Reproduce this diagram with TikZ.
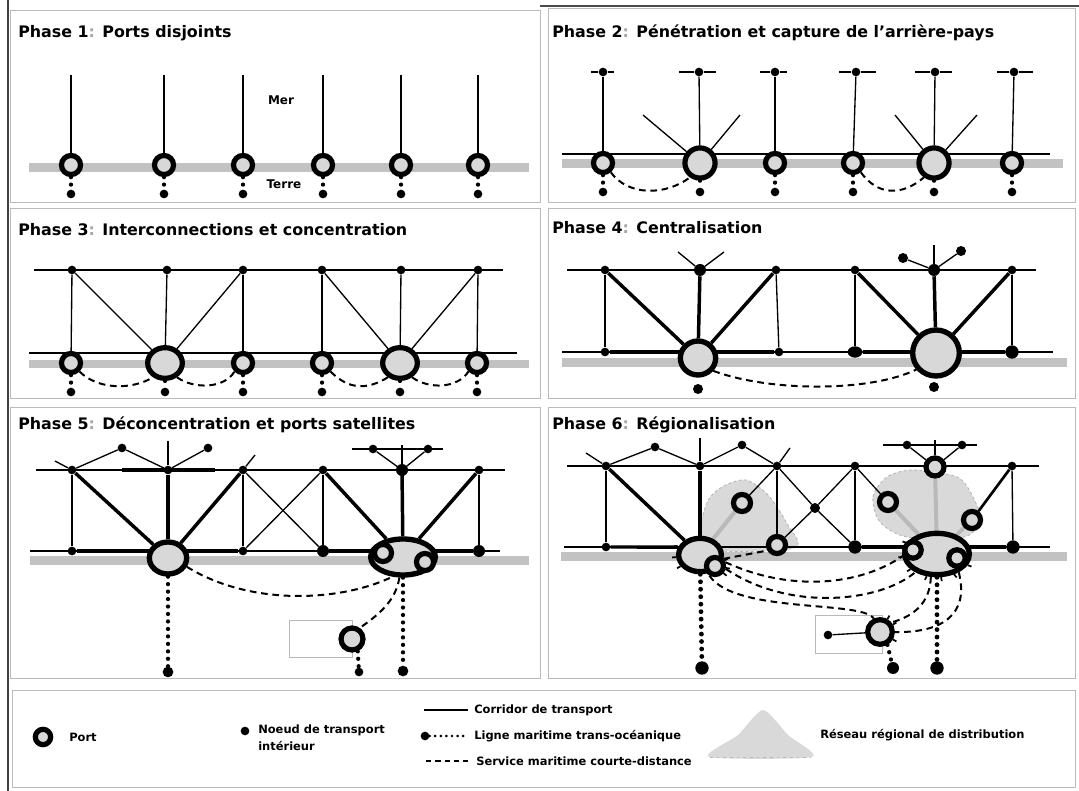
\documentclass[tikz,border=0pt]{standalone}
\usepackage{fontspec}
\setmainfont{DejaVu Sans}
\usetikzlibrary{shapes.geometric}
\pgfdeclarelayer{paper}
\pgfdeclarelayer{bgl}
\pgfdeclarelayer{lnl}
\pgfsetlayers{paper,bgl,lnl,main}
\definecolor{portfill}{HTML}{D8D8D8}
\definecolor{stripc}{HTML}{C2C2C2}
\definecolor{regionc}{HTML}{D9D9D9}
\definecolor{framec}{HTML}{BBBBBB}
\begin{document}
\begin{tikzpicture}[x=0.75pt,y=-0.75pt,
 port/.style={circle,draw=black,line width=3.9pt,fill=portfill,inner sep=0pt,minimum size=14.3pt},
 bport/.style={ellipse,draw=black,line width=4pt,fill=portfill,inner sep=0pt},
 dot/.style={circle,fill=black,inner sep=0pt,minimum size=6.5pt},
 bdot/.style={circle,fill=black,inner sep=0pt,minimum size=9pt},
 ln/.style={line width=1pt},
 thk/.style={line width=2.6pt},
 fade/.style={line width=3pt,draw=gray!55},
 dsea/.style={line width=1.5pt,dash pattern=on 5pt off 3.5pt},
 osea/.style={line width=3.2pt,line cap=round,dash pattern=on 0pt off 5.6pt},
 tick/.style={line width=1.3pt},
 ttl/.style={anchor=west,font=\fontsize{11.9}{13}\selectfont\bfseries,inner sep=0pt},
 lab/.style={anchor=west,font=\fontsize{8.6}{10}\selectfont\bfseries,inner sep=0pt},
 big/.style={font=\fontsize{9}{10}\selectfont\bfseries,inner sep=0pt},
 frame/.style={draw=framec,line width=0.6pt},
 region/.style={fill=regionc,draw=gray!60,dash pattern=on 2pt off 2pt,line width=0.6pt}]
\useasboundingbox (0,0) rectangle (1079,791);
\begin{pgfonlayer}{paper}
\fill[white] (0,0) rectangle (1079,791);
\end{pgfonlayer}

% ---------- frames ----------
\begin{pgfonlayer}{bgl}
\draw[frame] (10,10) rectangle (540,202);
\draw[frame] (548,8) rectangle (1075,202);
\draw[frame] (10,208) rectangle (540,398);
\draw[frame] (548,208) rectangle (1075,398);
\draw[frame] (10,407) rectangle (540,678);
\draw[frame] (548,407) rectangle (1075,678);
\draw[frame] (12,690) rectangle (1075,787);
\draw[black!75,line width=1.4pt] (8,0) -- (8,791);
\draw[black!70,line width=1.1pt] (540,6) -- (1079,6);
\end{pgfonlayer}

% ================= Phase 1 =================
\node[ttl] (ttl1) at (18,33) {Phase 1\textcolor{gray!70}{:} Ports disjoints};
\begin{pgfonlayer}{bgl}
\fill[stripc] (29,163) rectangle (529,172);
\end{pgfonlayer}
\foreach \x [count=\i] in {71,164,243,323,401,478} {
  \node[port] (a-p\i) at (\x,165) {};
  \node[dot] (a-n\i) at (\x,194) {};
  \coordinate (a-t\i) at (\x,75);
  \begin{pgfonlayer}{lnl}
  \draw[ln] (a-t\i) -- (a-p\i);
  \draw[osea] (a-p\i) -- (a-n\i);
  \end{pgfonlayer}
}
\node[big] (mer) at (281,100) {Mer};
\node[big] (terre) at (284,184) {Terre};

% ================= Phase 2 =================
\node[ttl] (ttl2) at (552,33) {Phase 2\textcolor{gray!70}{:} Pénétration et capture de l’arrière-pays};
\begin{pgfonlayer}{bgl}
\fill[stripc] (562,159.5) rectangle (1063,168.5);
\end{pgfonlayer}
\coordinate (b-cl) at (562,154);
\coordinate (b-cr) at (1050,154);
\begin{pgfonlayer}{lnl}
\draw[ln] (b-cl) -- (b-cr);
\end{pgfonlayer}
\foreach \x/\l/\r [count=\i] in {603/591/614, 699/679/716, 775/760/787, 856/839/876, 935/915/952, 1014/997/1033} {
  \node[dot] (b-t\i) at (\x,72) {};
  \coordinate (b-l\i) at (\l,72);
  \coordinate (b-r\i) at (\r,72);
  \begin{pgfonlayer}{lnl}
  \draw[ln] (b-l\i) -- (b-t\i) -- (b-r\i);
  \end{pgfonlayer}
}
\foreach \x/\s [count=\i] in {603/14.3pt,700/22.6pt,775/14.3pt,853/14.3pt,934/22.6pt,1012/14.3pt} {
  \node[port,minimum size=\s] (b-p\i) at (\x,163) {};
  \node[dot] (b-n\i) at (\x,192) {};
  \begin{pgfonlayer}{lnl}
  \draw[ln] (b-t\i) -- (b-p\i);
  \draw[osea] (b-p\i) -- (b-n\i);
  \end{pgfonlayer}
}
\coordinate (b-d1) at (643,115);
\coordinate (b-d2) at (740,115);
\coordinate (b-d3) at (895,115);
\coordinate (b-d4) at (977,115);
\begin{pgfonlayer}{lnl}
\draw[ln] (b-p2) -- (b-d1);
\draw[ln] (b-p2) -- (b-d2);
\draw[ln] (b-p5) -- (b-d3);
\draw[ln] (b-p5) -- (b-d4);
\draw[dsea] (b-p1.-50) .. controls (628,196) and (665,196) .. (b-p2.-125);
\draw[dsea] (b-p4.-50) .. controls (878,196) and (902,196) .. (b-p5.-125);
\end{pgfonlayer}

% ================= Phase 3 =================
\node[ttl] (ttl3) at (18,230) {Phase 3\textcolor{gray!70}{:} Interconnections et concentration};
\begin{pgfonlayer}{bgl}
\fill[stripc] (29,360) rectangle (529,368);
\end{pgfonlayer}
\coordinate (c-tl) at (34,270);
\coordinate (c-tr) at (503,270);
\coordinate (c-bl) at (29,353);
\coordinate (c-br) at (517,353);
\begin{pgfonlayer}{lnl}
\draw[ln] (c-tl) -- (c-tr);
\draw[ln] (c-bl) -- (c-br);
\end{pgfonlayer}
\foreach \x [count=\i] in {72,167,243,322,401,478} {
  \node[dot] (c-t\i) at (\x,270) {};
}
\foreach \x/\w/\h [count=\i] in {71/14.3pt/14.3pt,165/26pt/23pt,243/14.3pt/14.3pt,322/14.3pt/14.3pt,400/26pt/23pt,477/14.3pt/14.3pt} {
  \node[bport,line width=3.9pt,minimum width=\w,minimum height=\h] (c-p\i) at (\x,363) {};
  \node[dot] (c-n\i) at (\x,392) {};
  \begin{pgfonlayer}{lnl}
  \draw[ln] (c-t\i) -- (c-p\i);
  \draw[osea] (c-p\i) -- (c-n\i);
  \end{pgfonlayer}
}
\begin{pgfonlayer}{lnl}
\draw[ln] (c-t1) -- (c-p2);
\draw[ln] (c-t3) -- (c-p2);
\draw[ln] (c-t4) -- (c-p5);
\draw[ln] (c-t6) -- (c-p5);
\draw[dsea] (c-p1.-45) .. controls (98,390) and (132,390) .. (c-p2.-130);
\draw[dsea] (c-p2.-50) .. controls (195,390) and (225,388) .. (c-p3.-135);
\draw[dsea] (c-p4.-45) .. controls (349,390) and (367,390) .. (c-p5.-130);
\draw[dsea] (c-p5.-50) .. controls (430,390) and (458,388) .. (c-p6.-135);
\end{pgfonlayer}

% ================= Phase 4 =================
\node[ttl] (ttl4) at (552,228) {Phase 4\textcolor{gray!70}{:} Centralisation};
\begin{pgfonlayer}{bgl}
\fill[stripc] (562,358) rectangle (1067,367);
\end{pgfonlayer}
\coordinate (d-tl) at (567,270);
\coordinate (d-tr) at (1036,270);
\coordinate (d-bl) at (562,352);
\coordinate (d-br) at (1053,352);
\node[dot] (d-t1) at (605,270) {};
\node[bdot] (d-t2) at (700,270) {};
\node[dot] (d-t3) at (776,270) {};
\node[dot] (d-t4) at (855,270) {};
\node[bdot] (d-t5) at (934,270) {};
\node[dot] (d-t6) at (1012,270) {};
\coordinate (d-s1) at (678,252);
\coordinate (d-s2) at (724,252);
\coordinate (d-s3) at (934,245);
\node[dot,minimum size=7.5pt] (d-u1) at (903,258) {};
\node[dot,minimum size=7.5pt] (d-u2) at (961,251) {};
\node[dot] (d-b1) at (605,352) {};
\node[dot] (d-b2) at (779,352) {};
\node[ellipse,fill=black,inner sep=0pt,minimum width=11pt,minimum height=8.5pt] (d-b3) at (855,352) {};
\node[bdot,minimum size=10pt] (d-b4) at (1012,352) {};
\node[bport,minimum width=26.5pt,minimum height=25.5pt] (d-L) at (698,358) {};
\node[bport,minimum width=35pt,minimum height=34.5pt] (d-R) at (936,353) {};
\node[dot,minimum size=7.5pt] (d-n1) at (698,389) {};
\node[dot,minimum size=7.5pt] (d-n2) at (934,387) {};
\begin{pgfonlayer}{lnl}
\draw[ln] (d-tl) -- (d-tr);
\draw[ln] (d-bl) -- (d-br);
\draw[thk] (d-b1) -- (d-b2);
\draw[thk] (d-b3) -- (d-b4);
\draw[ln] (d-s1) -- (d-t2) -- (d-s2);
\draw[ln] (d-s3) -- (d-t5);
\draw[ln] (d-u1) -- (d-t5);
\draw[ln] (d-u2) -- (d-t5);
\draw[ln] (d-t1) -- (d-b1);
\draw[ln] (d-t3) -- (d-b2);
\draw[ln] (d-t4) -- (d-b3);
\draw[ln] (d-t6) -- (d-b4);
\draw[thk] (d-t1) -- (d-L);
\draw[thk] (d-t2) -- (d-L);
\draw[thk] (d-t3) -- (d-L);
\draw[thk] (d-t4) -- (d-R);
\draw[thk] (d-t5) -- (d-R);
\draw[thk] (d-t6) -- (d-R);
\draw[dsea] (d-L.-40) .. controls (770,392) and (870,392) .. (d-R.-140);
\end{pgfonlayer}

% ================= Phase 5 =================
\node[ttl] (ttl5) at (18,425) {Phase 5\textcolor{gray!70}{:} Déconcentration et ports satellites};
\begin{pgfonlayer}{bgl}
\fill[stripc] (30,556) rectangle (529,565);
\draw[gray!55,line width=0.7pt] (289,620) rectangle (352,657);
\end{pgfonlayer}
\coordinate (e-tl) at (36,470);
\coordinate (e-tr) at (505,470);
\coordinate (e-k1) at (122,470);
\coordinate (e-k2) at (215,470);
\coordinate (e-bl) at (30,551);
\coordinate (e-br) at (500,551);
\foreach \x [count=\i] in {72,168,243,323,402,479} {
  \node[dot] (e-t\i) at (\x,470) {};
}
\node[bdot] (e-t5b) at (402,470) {};
\node[dot] (e-u1) at (122,448) {};
\node[dot] (e-u2) at (208,448) {};
\coordinate (e-s1) at (55,461);
\coordinate (e-s2) at (168,441);
\coordinate (e-s3) at (255,455);
\coordinate (e-h1) at (352,449);
\coordinate (e-h2) at (443,449);
\coordinate (e-s4) at (402,445);
\node[dot] (e-v1) at (373,449) {};
\node[dot] (e-v2) at (428,449) {};
\node[dot] (e-b1) at (72,551) {};
\node[dot] (e-b3) at (243,551) {};
\node[bdot] (e-b4) at (323,551) {};
\node[bdot] (e-b6) at (479,551) {};
\node[bport,minimum width=28pt,minimum height=24pt] (e-P) at (168,558) {};
\node[bport,minimum width=48.5pt,minimum height=27pt] (e-C) at (403,557) {};
\node[port,minimum size=12.8pt] (e-c1) at (383,553) {};
\node[port,minimum size=12.8pt] (e-c2) at (425,562) {};
\node[port,minimum size=16.5pt] (e-s) at (352,639) {};
\node[dot] (e-sn) at (359,672) {};
\node[dot,minimum size=8pt] (e-n1) at (168,672) {};
\node[dot,minimum size=8pt] (e-n2) at (403,671) {};
\begin{pgfonlayer}{lnl}
\draw[ln] (e-tl) -- (e-tr);
\draw[thk] (e-k1) -- (e-k2);
\draw[ln] (e-bl) -- (e-br);
\draw[thk] (e-b1) -- (e-b3);
\draw[thk] (e-b4) -- (e-b6);
\draw[ln] (e-s1) -- (e-t1) -- (e-u1) -- (e-t2) -- (e-u2);
\draw[ln] (e-t2) -- (e-s2);
\draw[ln] (e-t3) -- (e-s3);
\draw[ln] (e-h1) -- (e-h2);
\draw[ln] (e-s4) -- (e-t5);
\draw[ln] (e-v1) -- (e-t5);
\draw[ln] (e-v2) -- (e-t5);
\draw[ln] (e-t1) -- (e-b1);
\draw[ln] (e-t3) -- (e-b3);
\draw[ln] (e-t3) -- (e-b4);
\draw[ln] (e-t4) -- (e-b3);
\draw[ln] (e-t4) -- (e-b4);
\draw[ln] (e-t6) -- (e-b6);
\draw[thk] (e-t1) -- (e-P);
\draw[thk] (e-t2) -- (e-P);
\draw[thk] (e-t3) -- (e-P);
\draw[thk] (e-t4) -- (e-C);
\draw[thk] (e-t5) -- (e-C);
\draw[thk] (e-t6) -- (e-C);
\draw[dsea] (e-P.-25) .. controls (250,606) and (340,602) .. (e-C.-118);
\draw[dsea] (e-C.-100) .. controls (396,600) and (380,614) .. (e-s.55);
\draw[osea] (e-s.-65) -- (e-sn);
\draw[osea] (e-P) -- (e-n1);
\draw[osea] (e-C) -- (e-n2);
\end{pgfonlayer}

% ================= Phase 6 =================
\node[ttl] (ttl6) at (552,425) {Phase 6\textcolor{gray!70}{:} Régionalisation};
\begin{pgfonlayer}{bgl}
\fill[stripc] (561,552) rectangle (1067,561);
\draw[region] plot[smooth cycle] coordinates {(704,548) (706,505) (722,487) (746,480) (768,495) (786,522) (794,548)};
\draw[region] plot[smooth cycle] coordinates {(880,522) (873,497) (887,477) (913,470) (957,477) (973,497) (980,520) (964,537) (907,537)};
\draw[gray!55,line width=0.7pt] (815,615) rectangle (882,653);
\end{pgfonlayer}
\coordinate (f-tl) at (567,466);
\coordinate (f-tr) at (1039,466);
\coordinate (f-bl) at (564,547);
\coordinate (f-br) at (1050,547);
\node[dot] (f-t1) at (606,466) {};
\node[dot] (f-t2) at (700,466) {};
\node[dot] (f-t3) at (777,466) {};
\node[dot] (f-t4) at (855,466) {};
\node[port,minimum size=13.5pt] (f-tp) at (935,467) {};
\node[dot] (f-t6) at (1012,466) {};
\node[dot] (f-u1) at (655,447) {};
\node[dot] (f-u2) at (742,445) {};
\coordinate (f-s1) at (586,453);
\coordinate (f-s2) at (790,448);
\coordinate (f-s3) at (700,438);
\coordinate (f-h1) at (883,445);
\coordinate (f-h2) at (977,445);
\coordinate (f-s4) at (935,440);
\node[dot] (f-v1) at (907,445) {};
\node[dot] (f-v2) at (962,445) {};
\node[dot] (f-b1) at (606,547) {};
\node[bdot,minimum size=10pt] (f-b4) at (855,547) {};
\node[bdot,minimum size=10pt] (f-b6) at (1013,547) {};
\node[dot,minimum size=7.5pt] (f-x) at (815,508) {};
\node[port,minimum size=12.8pt] (f-a1) at (742,503) {};
\node[port,minimum size=12.8pt] (f-a2) at (777,545) {};
\node[port,minimum size=12.8pt] (f-a3) at (888,502) {};
\node[port,minimum size=12.8pt] (f-a4) at (972,520) {};
\node[bport,minimum width=32pt,minimum height=25pt] (f-L) at (700,555) {};
\node[port,minimum size=12.8pt] (f-l) at (715,566) {};
\node[bport,minimum width=48.5pt,minimum height=31pt] (f-R) at (937,554) {};
\node[port,minimum size=12.3pt] (f-r1) at (913,550) {};
\node[port,minimum size=12.3pt] (f-r2) at (957,558) {};
\node[port,minimum size=18.5pt] (f-s) at (880,632) {};
\node[dot] (f-sn) at (828,635) {};
\node[bdot,minimum size=10pt] (f-n1) at (702,668) {};
\node[bdot,minimum size=10pt] (f-n2) at (937,668) {};
\node[bdot,minimum size=9pt] (f-n3) at (893,668) {};
\begin{pgfonlayer}{lnl}
\draw[ln] (f-tl) -- (f-tr);
\draw[ln] (f-bl) -- (f-br);
\draw[thk] (f-b1) -- (f-L.160);
\draw[thk] (f-b4) -- (f-b6);
\draw[ln] (f-s1) -- (f-t1) -- (f-u1) -- (f-t2) -- (f-u2) -- (f-t3) -- (f-s2);
\draw[ln] (f-t2) -- (f-s3);
\draw[ln] (f-h1) -- (f-h2);
\draw[ln] (f-s4) -- (f-tp);
\draw[ln] (f-v1) -- (f-tp);
\draw[ln] (f-v2) -- (f-tp);
\draw[ln] (f-t1) -- (f-b1);
\draw[thk] (f-t1) -- (f-L);
\draw[thk] (f-t2) -- (f-L);
\draw[ln] (f-t3) -- (f-a1);
\draw[ln] (f-t3) -- (f-a2);
\draw[ln] (f-t3) -- (f-x);
\draw[ln] (f-x) -- (f-b4);
\draw[ln] (f-t4) -- (f-x);
\draw[ln] (f-x) -- (f-a2);
\draw[ln] (f-t4) -- (f-b4);
\draw[ln] (f-t4) -- (f-a3);
\draw[line width=2pt] (f-t6) -- (f-a4);
\draw[ln] (f-t6) -- (f-b6);
\draw[fade] (f-a1) -- (f-L);
\draw[fade] (f-a3) -- (f-R);
\draw[fade] (f-tp) -- (f-R);
\draw[fade] (f-a4) -- (f-R);
\draw[ln] (f-sn) -- (f-s);
\draw[dsea] (f-l.20) .. controls (790,592) and (860,586) .. (f-r1.-150);
\draw[dsea] (f-l.-15) .. controls (790,612) and (880,602) .. (f-R.-140);
\draw[dsea] (f-l.-120) .. controls (735,614) and (862,600) .. (f-s.115);
\draw[dsea] (f-R.-105) .. controls (930,602) and (915,616) .. (f-s.40);
\draw[dsea] (f-R.-40) .. controls (970,616) and (940,633) .. (f-s.0);
\draw[dsea] (f-l.40) -- (f-a2.-150);
\draw[osea,line width=3.6pt] (f-L) -- (f-n1);
\draw[osea,line width=3.6pt] (f-R) -- (f-n2);
\draw[osea] (f-s.-60) -- (f-n3);
% small spikes on the cluster outlines
\foreach \a in {-20,-50,-80,-115,-150,-175,160} {
  \draw[tick] (f-R.\a) -- ([shift={(-\a:4)}]f-R.\a);
}
\foreach \a in {-150,-175,160} {
  \draw[tick] (f-L.\a) -- ([shift={(-\a:4)}]f-L.\a);
}
\foreach \a in {-10,-40,30,60} {
  \draw[tick] (f-l.\a) -- ([shift={(-\a:4)}]f-l.\a);
}
\foreach \a in {0,30,60,-30} {
  \draw[tick] (f-s.\a) -- ([shift={(-\a:4)}]f-s.\a);
}
\end{pgfonlayer}

% ================= Legend =================
\node[port,minimum size=11.5pt] (g-p) at (43,737) {};
\node[lab] (g-pt) at (69,737) {Port};
\node[dot] (g-n) at (245,731) {};
\node[lab] (g-nt1) at (258,730) {Noeud de transport};
\node[lab] (g-nt2) at (258,746) {intérieur};
\coordinate (g-c1) at (424,710);
\coordinate (g-c2) at (468,710);
\draw[ln] (g-c1) -- (g-c2);
\node[lab] (g-ct) at (474,710) {Corridor de transport};
\node[dot,minimum size=6.5pt] (g-o) at (425,736) {};
\coordinate (g-o2) at (468,736);
\draw[line width=2.2pt,line cap=round,dash pattern=on 0pt off 4.2pt] (g-o) -- (g-o2);
\node[lab] (g-ot) at (474,736) {Ligne maritime trans-océanique};
\coordinate (g-d1) at (426,761);
\coordinate (g-d2) at (468,761);
\draw[line width=1.3pt,dash pattern=on 4pt off 3pt] (g-d1) -- (g-d2);
\node[lab] (g-dt) at (476,761) {Service maritime courte-distance};
\fill[regionc] plot[smooth cycle,tension=0.4] coordinates {(709,757) (738,735) (763,710) (788,735) (812,757)};
\draw[gray!55,dash pattern=on 2pt off 3pt,line width=0.6pt] (710,757) -- (811,757);
\node[lab] (g-rt) at (820,735) {Réseau régional de distribution};
\end{tikzpicture}
\end{document}
